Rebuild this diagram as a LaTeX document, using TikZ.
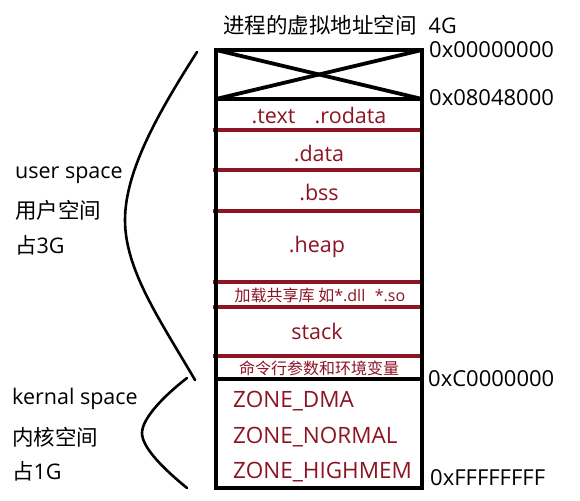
\documentclass[tikz,border=0pt]{standalone}
\usepackage{fontspec}
\setmainfont{Open Sans}
\newfontfamily\cjk{Noto Sans CJK SC}
\definecolor{segred}{RGB}{140,20,35}
\begin{document}
\begin{tikzpicture}[x=1pt,y=-1pt,
  blk/.style={line width=3.8pt,black},
  redln/.style={line width=3.4pt,segred},
  seg/.style={text=segred,font=\fontsize{21.5}{23}\selectfont,inner sep=0pt},
  zone/.style={text=segred,font=\fontsize{22.5}{24}\selectfont,inner sep=0pt,anchor=west},
  segs/.style={text=segred,font=\fontsize{16}{18}\selectfont,inner sep=0pt},
  addr/.style={anchor=west,font=\fontsize{22}{24}\selectfont,inner sep=0pt},
  lbl/.style={anchor=west,font=\fontsize{21.5}{23}\selectfont,inner sep=0pt},
  brace/.style={line width=2.6pt,line cap=round}]
\useasboundingbox (0,0) rectangle (580,500);
% corners
\coordinate (tl) at (216,50);
\coordinate (tr) at (422,50);
\coordinate (bl) at (216,488);
\coordinate (br) at (422,488);
\coordinate (xl) at (216,99);
\coordinate (xr) at (422,99);
\coordinate (kl) at (216,379);
\coordinate (kr) at (422,379);
% red separators
\foreach \n/\y in {r1/130,r2/170,r3/211,r4/282,r5/307,r6/356}{
  \coordinate (\n l) at (213,\y);
  \coordinate (\n r) at (424,\y);
  \draw[redln] (\n l) -- (\n r);
}
% box
\draw[blk] (tl) -- (tr) -- (br) -- (bl) -- cycle;
\draw[blk] (xl) -- (xr);
\draw[blk] (kl) -- (kr);
\draw[blk] (tl) -- (xr);
\draw[blk] (tr) -- (xl);
% title
\node[anchor=west,inner sep=0pt] (title) at (223,25) {{\cjk\fontsize{21.5}{23}\selectfont 进程的虚拟地址空间}\hspace{12pt}{\fontsize{21.5}{23}\selectfont 4G}};
% addresses
\node[addr] (a0) at (429,50) {0x00000000};
\node[addr] (a1) at (429,98) {0x08048000};
\node[addr] (a2) at (428,379) {0xC0000000};
\node[addr] (a3) at (430,478) {0xFFFFFFFF};
% segments
\node[seg] (text) at (319,115) {.text\hspace{0.9em}.rodata};
\node[seg] (data) at (319,153) {.data};
\node[seg] (bss) at (319,192) {.bss};
\node[seg] (heap) at (317,247) {.heap};
\node[segs] (lib) at (320,295) {{\cjk 加载共享库 如}*.dll\hspace{0.6em}*.so};
\node[seg] (stack) at (317,331) {stack};
\node[segs] (env) at (319,368) {\cjk 命令行参数和环境变量};
\node[zone] (dma) at (233,401) {ZONE\_DMA};
\node[zone] (normal) at (233,437) {ZONE\_NORMAL};
\node[zone] (high) at (233,472) {ZONE\_HIGHMEM};
% left labels
\node[lbl] (us) at (15,175) {user space};
\node[lbl] (us2) at (15,210) {\cjk 用户空间};
\node[lbl] (us3) at (15,245) {{\cjk 占}3G};
\node[lbl] (ks) at (12,399) {kernal space};
\node[lbl] (ks2) at (12,437) {\cjk 内核空间};
\node[lbl] (ks3) at (12,471) {{\cjk 占}1G};
% braces
\coordinate (ub1) at (197,52);
\coordinate (ub2) at (125,220);
\coordinate (ub3) at (195,380);
\draw[brace] (ub1) .. controls (160,110) and (125,170) .. (ub2)
             .. controls (125,270) and (160,320) .. (ub3);
\coordinate (kb1) at (187,378);
\coordinate (kb2) at (142,433);
\coordinate (kb3) at (187,488);
\draw[brace] (kb1) .. controls (165,395) and (142,418) .. (kb2)
             .. controls (142,448) and (165,470) .. (kb3);
\end{tikzpicture}
\end{document}
